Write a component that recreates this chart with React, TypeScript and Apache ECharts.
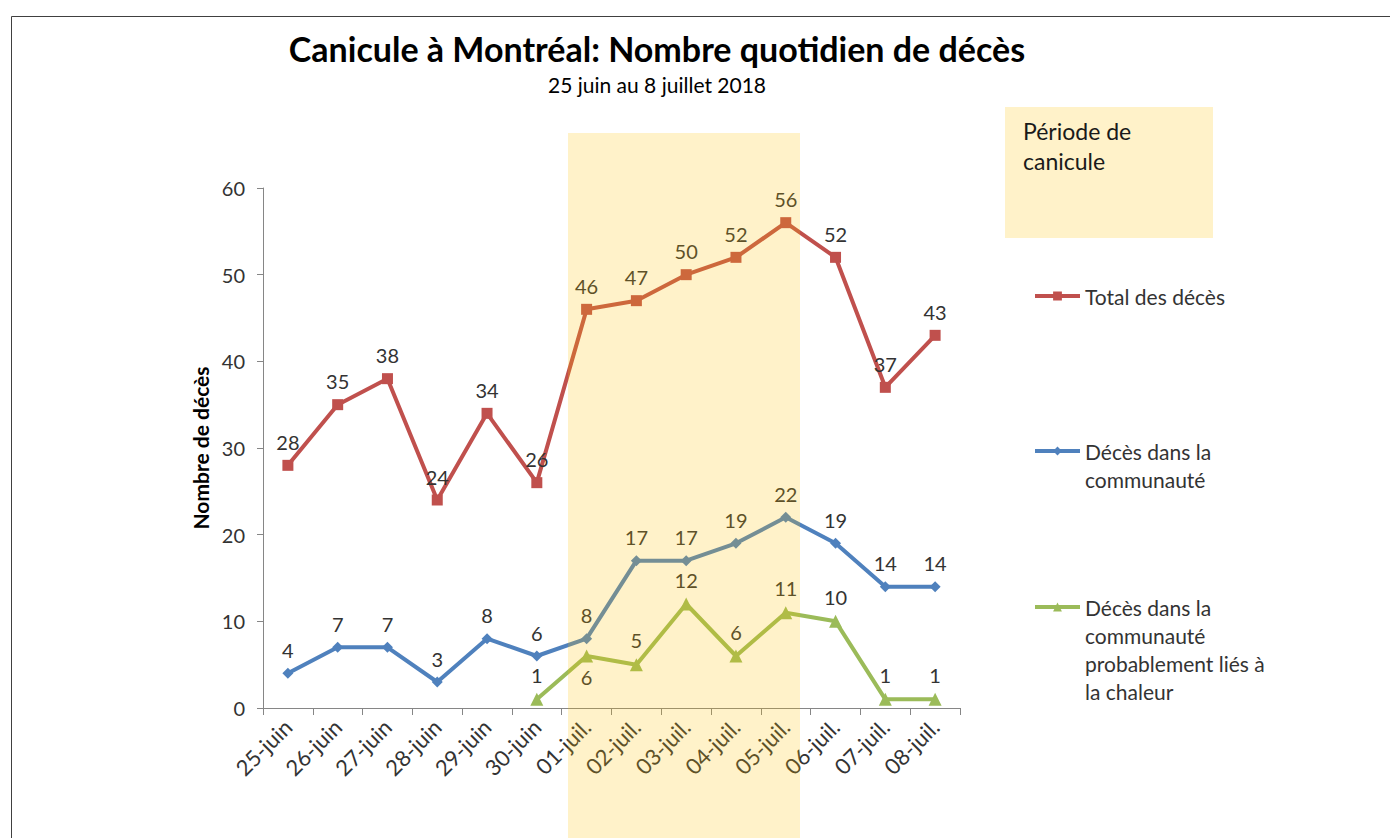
import React, { useEffect, useRef } from "react";
import * as echarts from "echarts";

const categories = [
  "25-juin", "26-juin", "27-juin", "28-juin", "29-juin", "30-juin",
  "01-juil.", "02-juil.", "03-juil.", "04-juil.", "05-juil.", "06-juil.", "07-juil.", "08-juil.",
];
const totalDeces = [28, 35, 38, 24, 34, 26, 46, 47, 50, 52, 56, 52, 37, 43];
const decesCommunaute = [4, 7, 7, 3, 8, 6, 8, 17, 17, 19, 22, 19, 14, 14];
const decesChaleur: (number | null)[] = [null, null, null, null, null, 1, 6, 5, 12, 6, 11, 10, 1, 1];
const yTicks = { min: 0, max: 60, interval: 10 };

const FONT = "Lato, 'Open Sans', sans-serif";
const TXT = "#333333";
const AXIS = "#868686";
const OVERLAY = "rgba(255,192,0,0.21)";

export default function App() {
  const ref = useRef<HTMLDivElement>(null);
  useEffect(() => {
    if (!ref.current) return;
    const chart = echarts.init(ref.current, undefined, { renderer: "svg" });
    const labelCommon = {
      show: true,
      position: "top" as const,
      distance: 8,
      fontFamily: FONT,
      fontSize: 20,
      color: TXT,
    };
    const legendText = { fontFamily: FONT, fontSize: 21, color: TXT, lineHeight: 28 };
    const legendCommon = {
      orient: "vertical",
      left: 1033,
      padding: 0,
      itemWidth: 45,
      itemHeight: 11,
      itemGap: 0,
      lineStyle: { width: 4 },
      textStyle: { ...legendText },
    };
    chart.setOption({
      animation: false,
      backgroundColor: "#ffffff",
      title: {
        text: "Canicule à Montréal: Nombre quotidien de décès",
        subtext: "25 juin au 8 juillet 2018",
        left: 652,
        textAlign: "center",
        top: 26,
        itemGap: 9,
        textStyle: { fontFamily: FONT, fontSize: 34, fontWeight: "bold", color: "#000" },
        subtextStyle: { fontFamily: FONT, fontSize: 21, color: "#000" },
      },
      grid: { left: 263, right: 430, top: 188, bottom: 130, containLabel: false },
      xAxis: {
        type: "category",
        data: categories,
        boundaryGap: true,
        axisLine: { lineStyle: { color: AXIS, width: 1 } },
        axisTick: { show: true, length: 7, lineStyle: { color: AXIS } },
        axisLabel: {
          rotate: 45,
          margin: 15,
          interval: 0,
          fontFamily: FONT,
          fontSize: 22,
          color: TXT,
        },
        splitLine: { show: false },
      },
      yAxis: {
        type: "value",
        min: yTicks.min,
        max: yTicks.max,
        interval: yTicks.interval,
        name: "Nombre de décès",
        nameLocation: "middle",
        nameGap: 51,
        nameTextStyle: { fontFamily: FONT, fontSize: 21, fontWeight: "bold", color: "#000" },
        axisLine: { show: true, lineStyle: { color: AXIS, width: 1 } },
        axisTick: { show: true, length: 6, lineStyle: { color: AXIS } },
        axisLabel: { margin: 18, fontFamily: FONT, fontSize: 20, color: TXT },
        splitLine: { show: false },
      },
      legend: [
        {
          ...legendCommon,
          top: 282,
          data: [{ name: "Total des décès" }],
        },
        {
          ...legendCommon,
          top: 409,
          data: [{ name: "Décès dans la communauté" }],
          formatter: () => "\nDécès dans la\ncommunauté",
        },
        {
          ...legendCommon,
          top: 509,
          data: [{ name: "Décès dans la communauté probablement liés à la chaleur" }],
          formatter: () => "\n\n\nDécès dans la\ncommunauté\nprobablement liés à\nla chaleur",
        },
      ],
      series: [
        {
          name: "Total des décès",
          type: "line",
          data: totalDeces,
          symbol: "rect",
          symbolSize: 11,
          color: "#C0504D",
          lineStyle: { width: 4, color: "#C0504D" },
          itemStyle: { color: "#C0504D" },
          label: labelCommon,
          z: 3,
        },
        {
          name: "Décès dans la communauté",
          type: "line",
          data: decesCommunaute,
          symbol: "diamond",
          symbolSize: 11,
          color: "#4F81BD",
          lineStyle: { width: 4, color: "#4F81BD" },
          itemStyle: { color: "#4F81BD" },
          label: labelCommon,
          z: 3,
        },
        {
          name: "Décès dans la communauté probablement liés à la chaleur",
          type: "line",
          data: decesChaleur.map((v, i) =>
            i === 6 ? { value: v, label: { position: "bottom", distance: 4 } } : v
          ),
          symbol: "triangle",
          symbolSize: 13,
          color: "#9BBB59",
          lineStyle: { width: 4, color: "#9BBB59" },
          itemStyle: { color: "#9BBB59" },
          label: labelCommon,
          connectNulls: false,
          z: 3,
        },
      ],
      graphic: [
        {
          type: "rect",
          left: 9,
          top: 14,
          z: 200,
          shape: { width: 1400, height: 900 },
          style: { fill: "none", stroke: "#404040", lineWidth: 1 },
          silent: true,
        },
        {
          type: "rect",
          left: 568,
          top: 133,
          z: 150,
          shape: { width: 232, height: 720 },
          style: { fill: OVERLAY },
          silent: true,
        },
        {
          type: "rect",
          left: 1005,
          top: 107,
          z: 150,
          shape: { width: 208, height: 131 },
          style: { fill: OVERLAY },
          silent: true,
        },
        {
          type: "text",
          left: 1023,
          top: 116,
          z: 160,
          style: {
            text: "Période de\ncanicule",
            fontFamily: FONT,
            fontSize: 23,
            lineHeight: 30,
            fill: "#1a1a1a",
          },
          silent: true,
        },
      ],
    });
    return () => chart.dispose();
  }, []);
  return (
    <div
      ref={ref}
      style={{ position: "absolute", left: 0, top: 0, width: 1390, height: 838 }}
    />
  );
}
